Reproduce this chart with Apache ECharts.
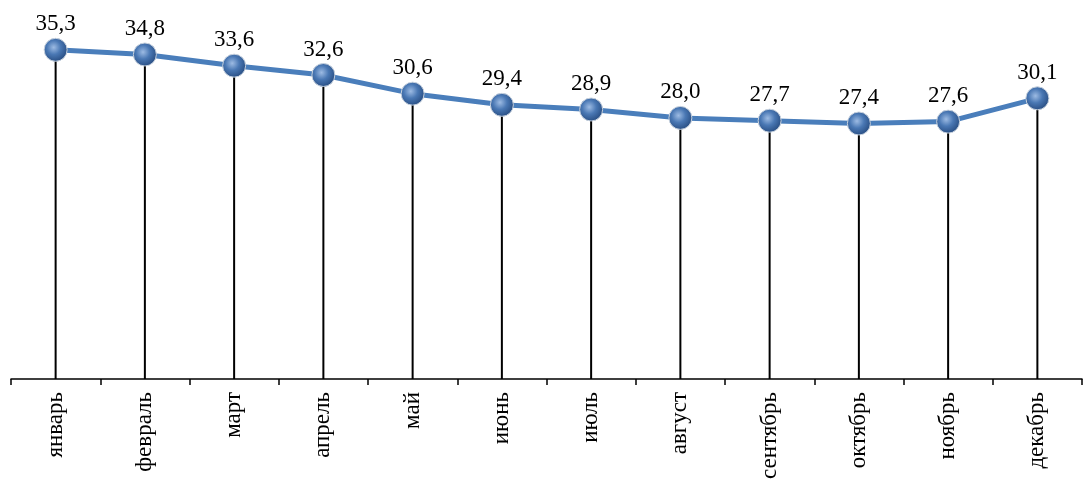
<!DOCTYPE html>
<html><head><meta charset="utf-8">
<script src="https://cdn.jsdelivr.net/npm/echarts@6/dist/echarts.min.js"></script>
<style>html,body{margin:0;padding:0;background:#fff}#c{width:1086px;height:482px}</style>
</head><body><div id="c"></div>
<script>
const categories = ['январь','февраль','март','апрель','май','июнь','июль','август','сентябрь','октябрь','ноябрь','декабрь'];
const values = [35.3, 34.8, 33.6, 32.6, 30.6, 29.4, 28.9, 28.0, 27.7, 27.4, 27.6, 30.1];

const chart = echarts.init(document.getElementById('c'));
const sphere = {
  type: 'radial', x: 0.42, y: 0.4, r: 0.65,
  colorStops: [
    {offset: 0, color: '#9dbbe3'},
    {offset: 0.45, color: '#4a78b4'},
    {offset: 1, color: '#24487c'}
  ]
};
chart.setOption({
  animation: false,
  grid: {left: 11, right: 4, top: 6, bottom: 103},
  xAxis: {
    type: 'category', data: categories, boundaryGap: true,
    axisLine: {lineStyle: {color: '#000', width: 1.5}},
    axisTick: {show: true, length: 6, lineStyle: {color: '#000', width: 1.5}},
    axisLabel: {rotate: 90, color: '#000', fontFamily: 'Liberation Serif', fontSize: 23, margin: 13}
  },
  yAxis: {type: 'value', min: 0, max: 40, show: false, splitLine: {show: false}},
  series: [
    {
      type: 'bar', data: values, barWidth: 2, silent: true,
      itemStyle: {color: '#000'}, z: 1
    },
    {
      type: 'line', data: values, z: 3,
      lineStyle: {color: '#4a7ebb', width: 5},
      symbol: 'circle', symbolSize: 23,
      itemStyle: {color: sphere, borderColor: '#c8d2de', borderWidth: 1},
      label: {
        show: true, position: 'top', distance: 2, color: '#000',
        fontFamily: 'Liberation Serif', fontSize: 23,
        formatter: p => p.value.toFixed(1).replace('.', ',')
      }
    }
  ]
});
</script></body></html>
